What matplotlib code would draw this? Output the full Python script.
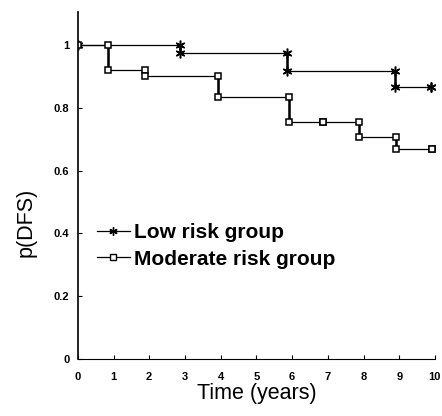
import numpy as np
import matplotlib
matplotlib.use("Agg")
import matplotlib.pyplot as plt

plt.rcParams['font.family'] = ['Liberation Sans', 'DejaVu Sans']

# Kaplan-Meier step data
low_t = [0, 2.86, 5.85, 8.88, 9.9]
low_s = [1.0, 0.975, 0.917, 0.866, 0.866]
mod_t = [0, 0.85, 1.88, 3.92, 5.9, 6.87, 7.88, 8.9, 9.92]
mod_s = [1.0, 0.92, 0.90, 0.835, 0.755, 0.755, 0.707, 0.668, 0.668]

xticks = list(range(0, 11))
yticks = [0, 0.2, 0.4, 0.6, 0.8, 1.0]
ytick_labels = ['0', '0.2', '0.4', '0.6', '0.8', '1']


def stepMarkers(_t, _s):  # points before and after each drop
    mx, my = [_t[0]], [_s[0]]
    for i in range(1, len(_t)):
        mx += [_t[i], _t[i]]
        my += [_s[i - 1], _s[i]]
    return mx, my


def drawCurve(ax, _t, _s, _marker, _ms):
    ax.step(_t, _s, where='post', color='black', lw=0.9)
    for i in range(1, len(_t)):
        if _s[i] != _s[i - 1]:
            ax.vlines(_t[i], _s[i], _s[i - 1], color='black', lw=1.8)
    mx, my = stepMarkers(_t, _s)
    ax.plot(mx, my, ls='none', marker=_marker, ms=_ms, mfc='white', mec='black', mew=1.1)


fig = plt.figure(figsize=(4.42, 4.16), dpi=100)
ax = fig.add_axes([0.176, 0.137, 0.808, 0.834])

drawCurve(ax, low_t, low_s, (6, 2, 0), 7)
drawCurve(ax, mod_t, mod_s, 's', 5)

ax.set_xlim(0, 10.0)
ax.set_ylim(0, 1.105)
ax.set_xticks(xticks)
ax.set_yticks(yticks)
ax.set_yticklabels(ytick_labels)
for s in ['top', 'right']:
    ax.spines[s].set_visible(False)
ax.spines['left'].set_linewidth(1.2)
ax.spines['bottom'].set_linewidth(0.8)
ax.tick_params(axis='both', direction='in', length=3, width=0.8)
ax.tick_params(axis='x', pad=9, labelsize=8)
ax.tick_params(axis='y', pad=6, labelsize=8)
for lab in ax.get_xticklabels() + ax.get_yticklabels():
    lab.set_fontweight('bold')

ax.set_xlabel('Time (years)', fontsize=15.5, labelpad=1)
ax.set_ylabel('p(DFS)', fontsize=15.5)
ax.yaxis.set_label_coords(-0.115, 0.395)

h1, = ax.plot([], [], color='black', lw=0.9, marker=(6, 2, 0), ms=6)
h2, = ax.plot([], [], color='black', lw=0.9, marker='s', ms=4.5, mfc='white')
ax.legend([h1, h2], ['Low risk group', 'Moderate risk group'], loc='upper left',
          bbox_to_anchor=(0.0, 0.445), frameon=False,
          prop={'size': 15, 'weight': 'bold'},
          handlelength=1.6, handletextpad=0.2, labelspacing=0.35)

fig.savefig('out.png', dpi=100)
